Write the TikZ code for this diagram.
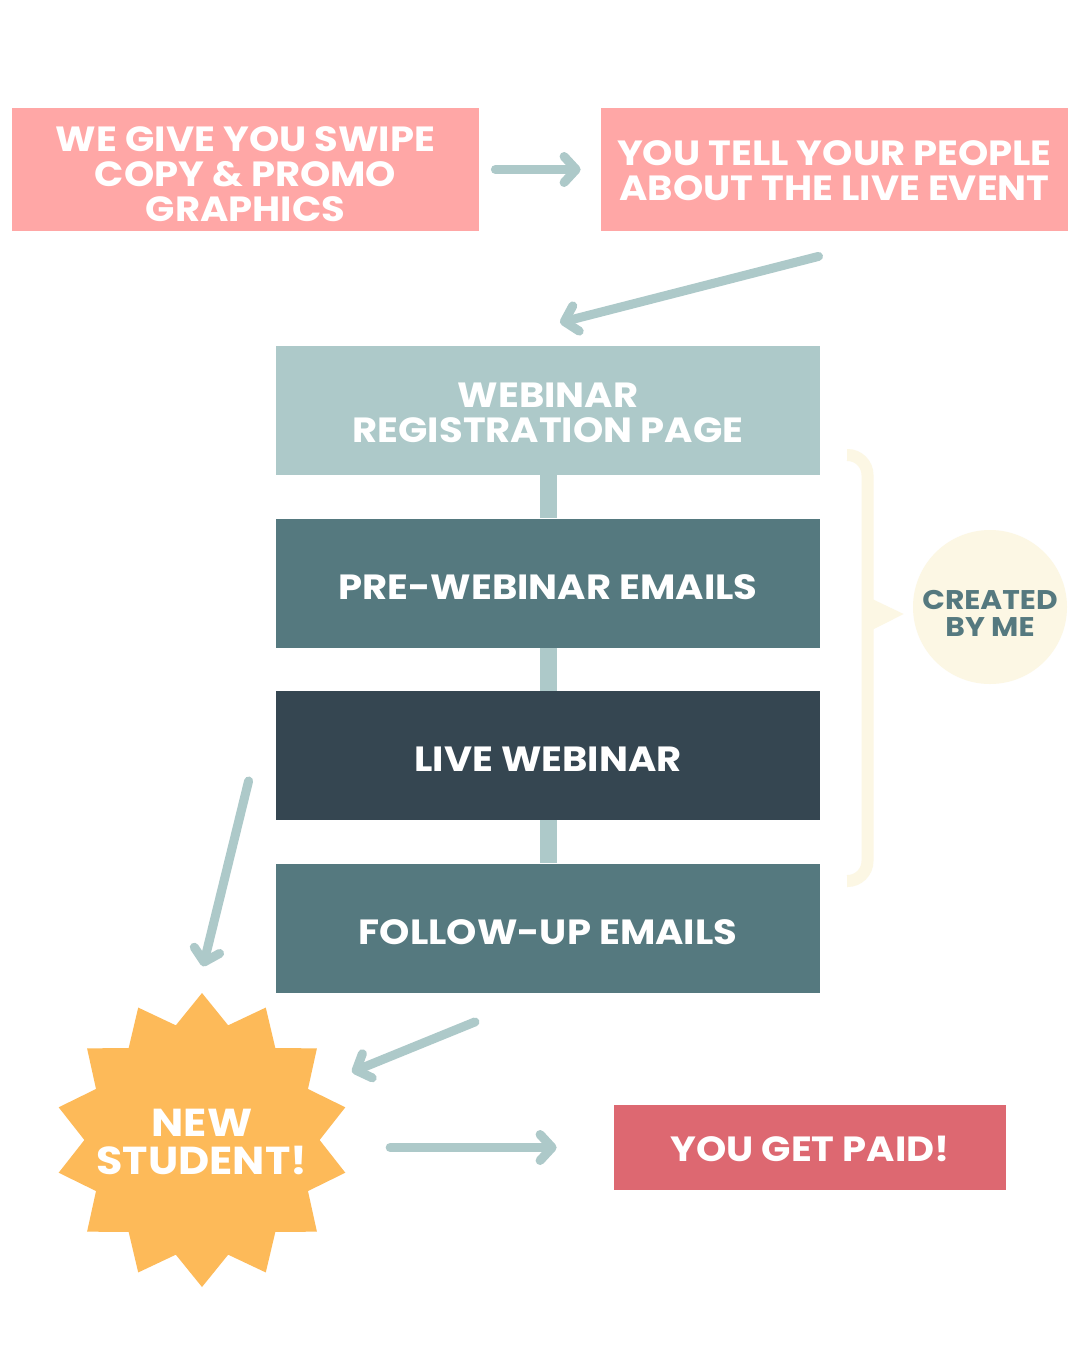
\documentclass[tikz,border=0pt]{standalone}
\usepackage{fontspec}
\setmainfont{Poppins}[FakeStretch=1.1]
\usepackage{xcolor}
\usepackage{tikz}
\usetikzlibrary{calc}
\usetikzlibrary{shapes.geometric}
\usetikzlibrary{arrows.meta}
\definecolor{blush}{HTML}{FFA7A6}
\definecolor{sage}{HTML}{ADC9C9}
\definecolor{slate}{HTML}{55797F}
\definecolor{navy}{HTML}{354651}
\definecolor{cream}{HTML}{FCF7E4}
\definecolor{sunny}{HTML}{FDBA59}
\definecolor{rosy}{HTML}{DD6871}
\newcommand{\capstrut}[1]{\rule{0pt}{#1}}
\tikzstyle{pinkbox} = [fill=blush, text=white, font=\bfseries\fontsize{17.5pt}{17.5pt}\selectfont,
align=center, minimum width=233.5pt, minimum height=61.5pt, inner sep=0pt]
\tikzstyle{stepbox} = [text=white, font=\bfseries\fontsize{17.5pt}{17.5pt}\selectfont,
align=center, minimum width=272pt, minimum height=64.5pt, inner sep=0pt]
\tikzstyle{flow} = [draw=sage, line width=4.5pt, line cap=round,
-{Straight Barb[length=6pt, width=13pt, round]}]
\tikzstyle{joint} = [draw=sage, line width=8.5pt]

\begin{document}
\begin{tikzpicture}[x=0.5pt, y=-0.5pt]
        \fill[white] (0,0) rectangle (1080,1350);
        \useasboundingbox (0,0) rectangle (1080,1350);
        % promo
        \node[pinkbox] (swipe) at (245.5,169.5) {\capstrut{17.25pt}WE GIVE YOU SWIPE\\COPY \& PROMO\\GRAPHICS};
        \node[pinkbox] (tell) at (834.5,169.5) {\capstrut{13.75pt}YOU TELL YOUR PEOPLE\\ABOUT THE LIVE EVENT};
        % webinar funnel
        \node[stepbox, fill=sage] (reg) at (548,410.5) {\capstrut{14.75pt}WEBINAR\\REGISTRATION PAGE};
        \node[stepbox, fill=slate] (pre) at (548,583) {\capstrut{16.25pt}PRE-WEBINAR EMAILS};
        \node[stepbox, fill=navy] (live) at (548,755.5) {\capstrut{16.25pt}LIVE WEBINAR};
        \node[stepbox, fill=slate] (follow) at (548,928) {\capstrut{16.25pt}FOLLOW-UP EMAILS};
        \draw[joint] (reg.south) -- (pre.north);
        \draw[joint] (pre.south) -- (live.north);
        \draw[joint] (live.south) -- (follow.north);
        % created by me
        \node[circle, fill=cream, text=slate, font=\bfseries\fontsize{13.5pt}{13.5pt}\selectfont,
            align=center, minimum size=77pt, inner sep=0pt] (me) at (990,607) {\capstrut{15.95pt}CREATED\\BY ME};
        \draw[cream, line width=6pt, rounded corners=10pt]
            (847,455) -- (867.5,455) -- (867.5,881) -- (847,881);
        \fill[cream] (868,597) -- ($(me.west)+(-9,7)$) -- (868,632) -- cycle;
        % result
        \node[star, star points=14, star point ratio=1.25, minimum size=147pt, inner sep=0pt,
            fill=sunny, label={[text=white, font=\bfseries\fontsize{19.5pt}{19pt}\selectfont,
            align=center]center:{\capstrut{15.65pt}NEW\\STUDENT!}}] (newbie) at (202,1140) {};
        \node[fill=rosy, text=white, font=\bfseries\fontsize{17.5pt}{17.5pt}\selectfont, align=center,
            minimum width=196pt, minimum height=42.5pt, inner sep=0pt] (paid) at (810,1147.5) {\capstrut{14.25pt}YOU GET PAID!};
        % arrows
        \draw[flow, shorten <=8pt, shorten >=10pt] (swipe.east) -- (tell.west);
        \draw[flow] ($(tell.south)+(-16,25)$) -- ($(reg.north)+(12,-23)$);
        \draw[flow] ($(live.west)+(-27,25.5)$) -- ($(newbie.north)+(1,-26)$);
        \draw[flow] ($(follow.south)+(-73,29)$) -- ($(newbie)+(150,-68)$);
        \draw[flow, shorten <=35pt, shorten >=28.5pt] (newbie.east |- paid.west) -- (paid.west);
    \end{tikzpicture}
\end{document}
